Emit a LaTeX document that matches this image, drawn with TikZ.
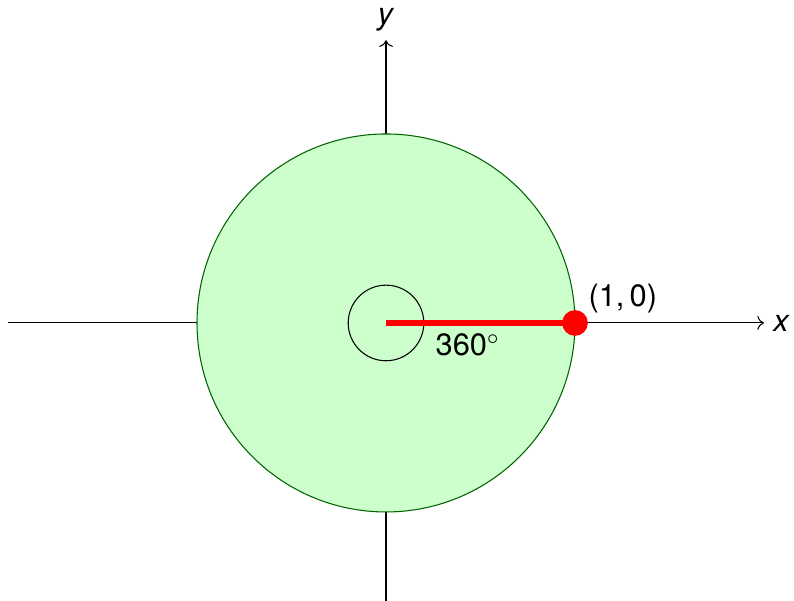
\documentclass[tikz,border=0pt]{standalone}
\usepackage{fontspec}
\setmainfont{TeX Gyre Heros}
\usetikzlibrary{arrows.meta, positioning}
\definecolor{DiskFill}{HTML}{CCFFCC}
\definecolor{DiskLine}{HTML}{006400}
\definecolor{PointRed}{HTML}{FF0000}

\begin{document}
\begin{tikzpicture}[every node/.style={font=\fontsize{11.6}{14}\selectfont}]
  \useasboundingbox (-5.106,-3.677) rectangle (5.397,4.272);
  \coordinate (O) at (0,0);
  % axes
  \draw[->] (-5,0) -- (5,0) node[right] (xlab) {\textit{x}};
  \draw[->] (0,-3.75) -- (0,3.74) node[above] (ylab) {\textit{y}};
  % disk
  \draw[DiskLine, fill=DiskFill] (O) circle (2.5);
  \node[draw, circle, minimum size=1cm, inner sep=0pt] (turn) at (O) {};
  \coordinate (P) at (2.5,0);
  \draw[PointRed, line width=2.2pt] (O) -- (P);
  \node[circle, fill=PointRed, minimum size=0.34cm, inner sep=0pt] (dot) at (P) {};
  \node[above right=-3.5pt and -2pt of dot] (plab) {(1,\,0)};
  \node at (1.08,-0.29) (angle) {360$^\circ$};
\end{tikzpicture}
\end{document}
